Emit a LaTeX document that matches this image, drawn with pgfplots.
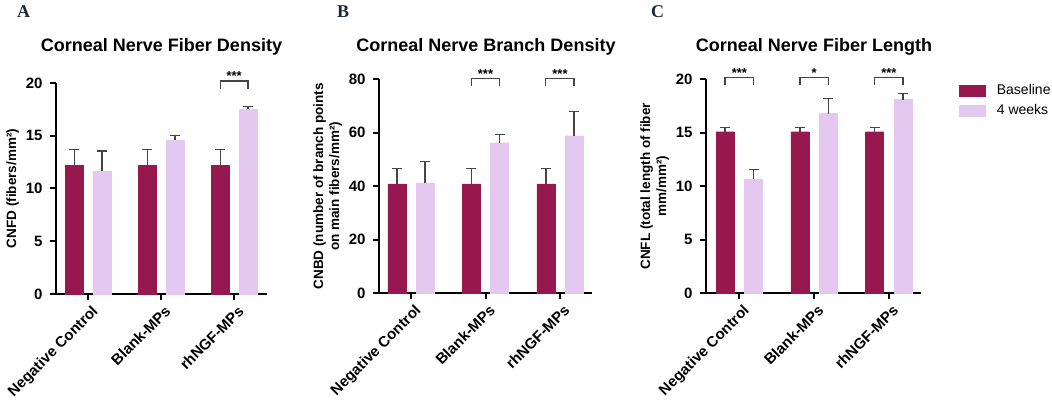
\documentclass[border=0pt]{standalone}
\usepackage{pgfplots}
\pgfplotsset{compat=1.18}
\usepackage{fontspec}
\setmainfont{Liberation Sans}
\newfontfamily\letterfont{Liberation Serif}

\definecolor{basec}{RGB}{150,24,78}
\definecolor{wkc}{RGB}{228,200,240}
\definecolor{errc}{RGB}{68,68,68}
\definecolor{letc}{RGB}{30,38,60}

\pgfplotsset{
  panel/.style={
    scale only axis, anchor=south west,
    axis x line=bottom, axis y line=left,
    axis line style={-, line width=2pt},
    tick align=outside, major tick length=6pt,
    tick style={line width=2pt, black},
    ymin=0,
    xtick={0,1,2},
    xticklabels={Negative Control,Blank-MPs,rhNGF-MPs},
    x tick label style={rotate=45, anchor=north east, inner sep=1pt, yshift=-4pt,
      font=\fontsize{15}{15}\selectfont\bfseries},
    y tick label style={font=\fontsize{15}{15}\selectfont\bfseries, xshift=-4pt},
    /pgf/number format/assume math mode=true,
    ylabel style={font=\fontsize{13.5}{16}\selectfont\bfseries, align=center},
    clip=false,
    ybar, bar width=18pt, bar shift=0pt,
  },
  errs/.style={
    error bars/.cd, y dir=plus, y explicit,
    error bar style={line width=1.4pt, errc},
    error mark options={rotate=90, line width=1.4pt, errc, mark size=5pt},
    /pgfplots/.cd,
  },
}

\newcommand{\sig}[5]{% x1, x2, top, bottom, stars
  \draw[errc, line width=1.3pt] (axis cs:#1,#4) -- (axis cs:#1,#3) -- (axis cs:#2,#3) -- (axis cs:#2,#4);
  \node[anchor=base, inner sep=0pt, font=\fontsize{13}{13}\selectfont\bfseries] at (axis cs:{(#1+#2)/2},#3) {#5};
}

\begin{document}
\begin{tikzpicture}
\useasboundingbox (0,0) rectangle (1052pt,401pt);

% A
\begin{axis}[panel, at={(56pt,107pt)}, width=211pt, height=211pt,
  xmin=-0.44, xmax=2.45, ymax=20, ytick={0,5,10,15,20},
  ylabel={CNFD (fibers/mm²)}]
\addplot[fill=basec, draw=basec, errs] table[x=x, y=y, y error=e] {
x y e
-0.19 12.2 1.5
0.81 12.2 1.5
1.81 12.2 1.5
};
\addplot[fill=wkc, draw=wkc, errs] table[x=x, y=y, y error=e] {
x y e
0.19 11.65 1.9
1.19 14.6 0.4
2.19 17.5 0.3
};
\sig{1.81}{2.19}{20.2}{19.4}{***}
\end{axis}

% B
\begin{axis}[panel, at={(379pt,107.7pt)}, width=213pt, height=214pt,
  xmin=-0.43, xmax=2.43, ymax=80, ytick={0,20,40,60,80},
  ylabel={CNBD (number of branch points\\on main fibers/mm²)}]
\addplot[fill=basec, draw=basec, errs] table[x=x, y=y, y error=e] {
x y e
-0.19 40.9 5.7
0.81 40.9 5.7
1.81 40.9 5.7
};
\addplot[fill=wkc, draw=wkc, errs] table[x=x, y=y, y error=e] {
x y e
0.19 41.3 7.9
1.19 56.3 3.0
2.19 58.9 9.0
};
\sig{0.81}{1.19}{80.4}{77.4}{***}
\sig{1.81}{2.19}{80.4}{77.4}{***}
\end{axis}

% C
\begin{axis}[panel, at={(706pt,107.7pt)}, width=215pt, height=214pt,
  xmin=-0.446, xmax=2.43, ymax=20, ytick={0,5,10,15,20},
  ylabel={CNFL (total length of fiber\\mm/mm²)},
  legend style={at={(1.178,0.975)}, anchor=north west, draw=none, fill=none,
    inner sep=0pt, row sep=8pt, font=\fontsize{14}{14}\selectfont,
    nodes={inner sep=0pt}},
  legend cell align=left]
\addplot[fill=basec, draw=basec, errs,
  legend image code/.code={\fill[basec] (0pt,-5.5pt) rectangle (26pt,5.5pt); \path (37pt,0pt);}]
  table[x=x, y=y, y error=e] {
x y e
-0.19 15.1 0.4
0.81 15.1 0.4
1.81 15.1 0.4
};
\addplot[fill=wkc, draw=wkc, errs,
  legend image code/.code={\fill[wkc] (0pt,-5.5pt) rectangle (26pt,5.5pt); \path (37pt,0pt);}]
  table[x=x, y=y, y error=e] {
x y e
0.19 10.7 0.85
1.19 16.8 1.4
2.19 18.1 0.6
};
\legend{Baseline,4 weeks}
\sig{-0.19}{0.19}{20.2}{19.45}{***}
\sig{0.81}{1.19}{20.2}{19.45}{*}
\sig{1.81}{2.19}{20.2}{19.45}{***}
\end{axis}

% titles and panel letters
\node[anchor=base, font=\fontsize{18}{18}\selectfont\bfseries] at (161.5pt,349pt) {Corneal Nerve Fiber Density};
\node[anchor=base, font=\fontsize{18}{18}\selectfont\bfseries] at (486pt,349pt) {Corneal Nerve Branch Density};
\node[anchor=base, font=\fontsize{18}{18}\selectfont\bfseries] at (814pt,349pt) {Corneal Nerve Fiber Length};
\node[anchor=base west, inner sep=0pt, text=letc, font=\letterfont\fontsize{18}{18}\selectfont\bfseries] at (17pt,383pt) {A};
\node[anchor=base west, inner sep=0pt, text=letc, font=\letterfont\fontsize{18}{18}\selectfont\bfseries] at (337pt,383pt) {B};
\node[anchor=base west, inner sep=0pt, text=letc, font=\letterfont\fontsize{18}{18}\selectfont\bfseries] at (651pt,383pt) {C};
\end{tikzpicture}
\end{document}
